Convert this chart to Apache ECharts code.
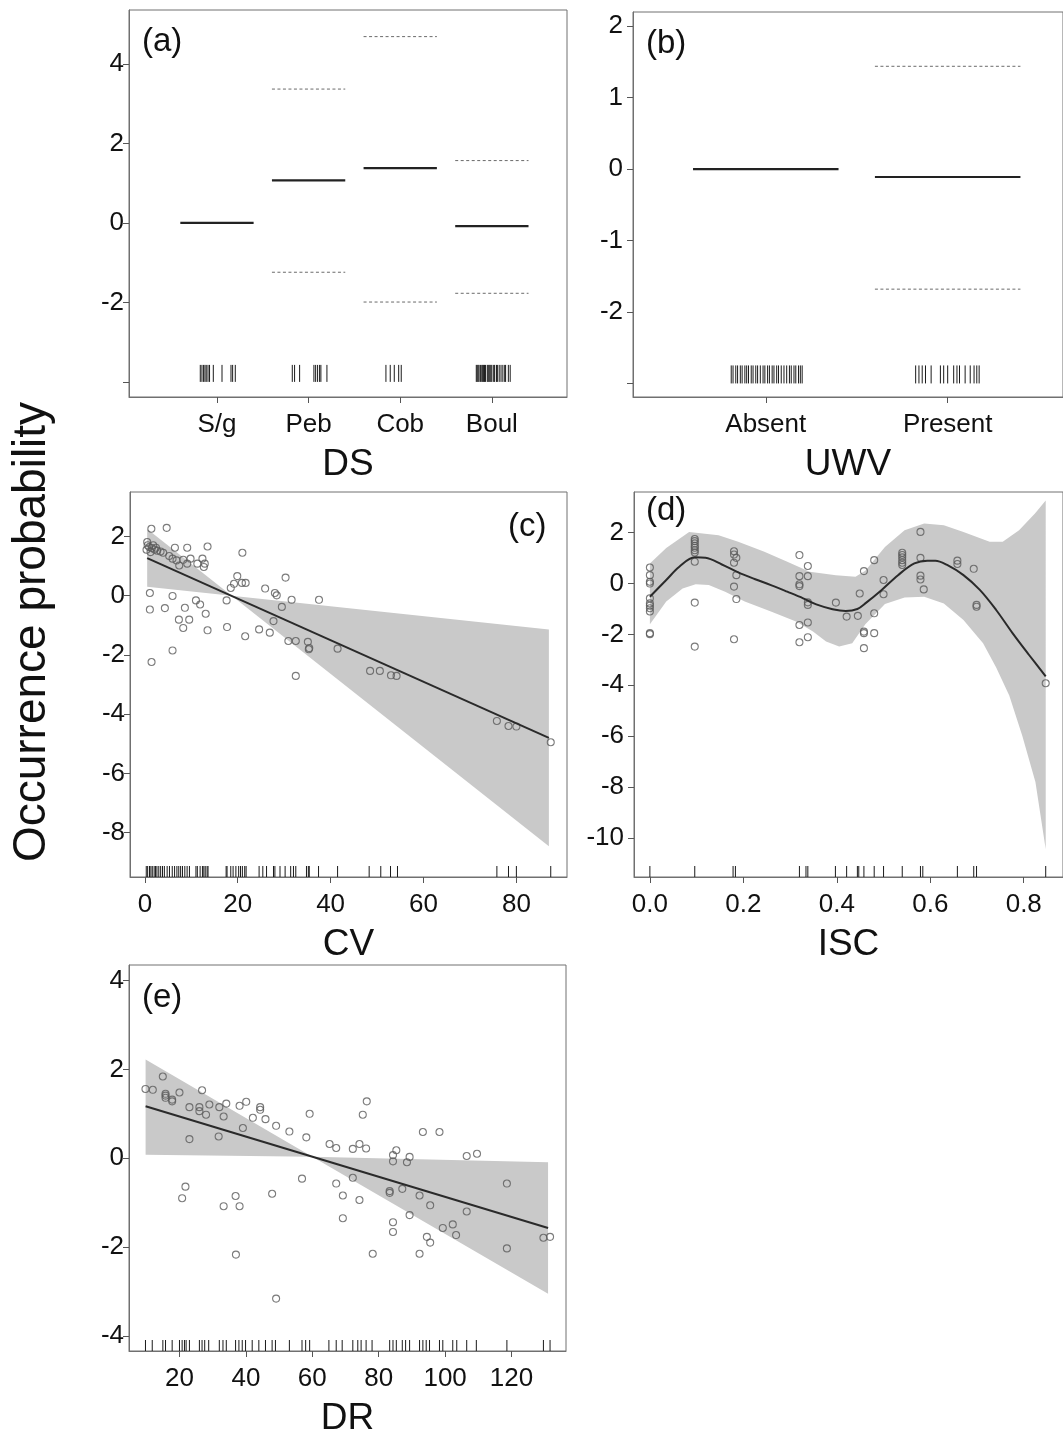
<!DOCTYPE html>
<html>
<head>
<meta charset="utf-8">
<script src="https://cdn.jsdelivr.net/npm/echarts@6/dist/echarts.min.js"></script>
<style>html,body{margin:0;padding:0;background:#fff}#c{width:1063px;height:1438px}</style>
</head>
<body>
<div id="c"></div>
<script>
// ---------- DATA ----------
// (a) DS
const DS_CATS = ['S/g', 'Peb', 'Cob', 'Boul'];
const DS_FIT = [0, 1.07, 1.38, -0.08];
const DS_UPPER = [null, 3.37, 4.69, 1.57];
const DS_LOWER = [null, -1.24, -1.99, -1.77];
const DS_RUG = [0.818, 0.836, 0.854, 0.869, 0.883, 0.902, 0.919, 0.96, 1.055, 1.153, 1.171, 1.2,
  1.822, 1.847, 1.902, 2.058, 2.077, 2.098, 2.12, 2.134, 2.2,
  2.844, 2.891, 2.935, 2.983, 3.011,
  3.83, 3.84, 3.85, 3.86, 3.875, 3.89, 3.90, 3.91, 3.92, 3.93, 3.95, 3.96, 3.97, 3.98, 3.99, 4.0,
  4.02, 4.03, 4.05, 4.06, 4.08, 4.10, 4.12, 4.14, 4.15, 4.18, 4.20];
const DS_YTICKS = [-4, -2, 0, 2, 4];

// (b) UWV
const UWV_CATS = ['Absent', 'Present'];
const UWV_FIT = [0, -0.11];
const UWV_UPPER = [null, 1.44];
const UWV_LOWER = [null, -1.68];
const UWV_RUG = [0.81, 0.82, 0.835, 0.845, 0.86, 0.87, 0.885, 0.895, 0.905, 0.92, 0.93, 0.945, 0.955,
  0.97, 0.985, 0.995, 1.01, 1.02, 1.035, 1.045, 1.06, 1.07, 1.085, 1.10, 1.115, 1.13, 1.14, 1.155,
  1.165, 1.18, 1.19, 1.20,
  1.824, 1.842, 1.86, 1.878, 1.909, 1.96, 1.978, 2.0, 2.033, 2.051, 2.065, 2.096, 2.124, 2.145, 2.16, 2.173];
const UWV_YTICKS = [-3, -2, -1, 0, 1, 2];

// (c) CV
const CV_POINTS = [[1.4,2.26],[4.7,2.29],[0.5,1.81],[0.36,1.55],[0.93,1.64],[1.5,1.61],[2.08,1.56],[2.66,1.52],
  [3.38,1.49],[3.95,1.45],[1.22,1.47],[0.6,1.7],[1.8,1.7],[2.4,1.62],[6.47,1.62],[9.12,1.62],[13.5,1.66],
  [5.24,1.34],[5.96,1.25],[6.82,1.19],[7.4,1.02],[8.26,1.21],[9.12,1.08],[9.84,1.25],[11.3,1.08],[12.4,1.25],
  [12.9,1.08],[12.7,0.97],[21.0,1.45],[19.9,0.66],[19.2,0.4],[20.9,0.43],[21.7,0.43],[18.5,0.26],[30.3,0.61],
  [25.9,0.24],[28.0,0.09],[28.4,0.01],[31.6,-0.14],[37.5,-0.14],[17.6,-0.16],[1.08,0.09],[5.96,-0.01],
  [11.0,-0.16],[11.9,-0.3],[1.08,-0.47],[4.31,-0.42],[8.62,-0.41],[13.1,-0.61],[7.33,-0.81],[9.55,-0.81],
  [8.26,-1.09],[13.5,-1.17],[17.7,-1.06],[21.6,-1.37],[29.5,-0.38],[27.7,-0.86],[24.6,-1.14],[26.9,-1.25],
  [30.9,-1.53],[32.5,-1.53],[35.1,-1.56],[35.4,-1.77],[35.3,-1.81],[41.5,-1.79],[5.96,-1.85],[1.44,-2.24],
  [32.5,-2.71],[48.5,-2.54],[50.6,-2.54],[53.0,-2.69],[54.2,-2.71],[75.8,-4.23],[78.3,-4.40],[80.0,-4.42],[87.4,-4.95]];
const CV_FIT_X = [0.5, 87];
const CV_FIT_Y = [1.27, -4.80];
const CV_BAND_X = [0.5, 18.7, 87];
const CV_BAND_UP = [2.25, 0, -1.14];
const CV_BAND_LO = [0.30, 0, -8.46];
const CV_RUG = [0.3,0.6,1.0,1.3,1.6,2.0,2.3,2.6,3.0,3.4,3.8,4.2,4.8,5.3,5.9,6.4,6.9,7.3,7.7,8.1,8.6,9.1,9.6,
  11.0,11.3,11.9,12.4,12.7,13.0,13.4,13.6,
  17.5,17.7,18.5,19.0,19.6,20.2,20.6,21.0,21.5,21.8,
  24.6,25.4,26.2,27.7,28.0,29.1,30.2,31.4,32.0,32.5,
  34.8,35.2,35.4,37.4,41.5,48.3,50.8,52.9,54.4,75.8,78.3,80.0,87.4];
const CV_XTICKS = [0, 20, 40, 60, 80];
const CV_YTICKS = [-8, -6, -4, -2, 0, 2];

// (d) ISC
const ISC_POINTS = [[0,0.63],[0,0.33],[0,0.07],[0,0.0],[0,-0.58],[0,-0.78],[0,-0.87],[0,-0.97],[0,-1.1],[0,-1.95],[0,-1.99],
  [0.096,1.75],[0.096,1.67],[0.096,1.58],[0.096,1.48],[0.096,1.41],[0.096,1.31],[0.096,1.22],[0.096,0.86],[0.096,-0.75],[0.096,-2.48],
  [0.18,1.27],[0.18,1.14],[0.18,0.82],[0.18,-0.12],[0.18,-2.19],[0.185,1.01],[0.185,0.33],[0.185,-0.61],
  [0.32,1.12],[0.32,0.29],[0.32,-0.03],[0.32,-0.1],[0.32,-1.63],[0.32,-2.31],
  [0.338,0.69],[0.338,0.29],[0.338,-0.74],[0.338,-0.84],[0.338,-1.53],[0.338,-2.11],
  [0.398,-0.75],[0.421,-1.3],[0.445,-1.27],[0.449,-0.39],
  [0.458,0.49],[0.458,-1.89],[0.458,-1.95],[0.458,-2.54],
  [0.48,0.92],[0.48,-1.17],[0.48,-1.95],[0.50,0.14],[0.50,-0.42],
  [0.54,1.21],[0.54,1.12],[0.54,1.03],[0.54,0.92],[0.54,0.82],[0.54,0.73],
  [0.579,2.03],[0.579,1.01],[0.579,0.31],[0.579,0.16],[0.586,-0.23],
  [0.658,0.9],[0.658,0.77],[0.693,0.58],[0.699,-0.84],[0.699,-0.91],[0.847,-3.92]];
const ISC_FIT_X = [0,0.035,0.063,0.096,0.119,0.154,0.189,0.224,0.259,0.294,0.328,0.356,0.391,0.419,0.444,0.463,
  0.496,0.531,0.566,0.594,0.611,0.636,0.671,0.706,0.741,0.776,0.811,0.847];
const ISC_FIT_Y = [-0.52,0.14,0.66,1.03,1.01,0.75,0.44,0.18,-0.06,-0.32,-0.58,-0.82,-1.01,-1.08,-1.0,-0.75,
  -0.25,0.33,0.79,0.9,0.9,0.73,0.33,-0.25,-1.04,-1.95,-2.80,-3.65];
const ISC_UP_X = [0,0.035,0.084,0.147,0.189,0.245,0.294,0.342,0.398,0.44,0.461,0.503,0.545,0.587,0.629,0.671,0.727,0.755,0.79,0.824,0.847];
const ISC_UP = [0.79,1.4,2.03,1.9,1.64,1.25,0.86,0.46,0.33,0.27,0.5,1.44,2.1,2.36,2.29,2.03,1.64,1.64,2.1,2.75,3.27];
const ISC_LO_X = [0,0.035,0.07,0.098,0.126,0.161,0.203,0.259,0.314,0.349,0.377,0.405,0.433,0.461,0.503,0.545,0.587,0.629,0.671,0.713,0.741,0.769,0.797,0.825,0.847];
const ISC_LO = [-1.6,-0.71,-0.19,-0.03,-0.06,-0.32,-0.71,-1.1,-1.5,-1.89,-2.28,-2.48,-2.35,-1.6,-0.8,-0.55,-0.52,-0.78,-1.43,-2.35,-3.3,-4.4,-6.0,-7.8,-10.45];
const ISC_RUG = [0,0.096,0.178,0.183,0.32,0.334,0.338,0.397,0.421,0.444,0.447,0.458,0.48,0.5,0.54,0.579,0.584,0.658,0.693,0.699,0.847];
const ISC_XTICKS = [0, 0.2, 0.4, 0.6, 0.8];
const ISC_YTICKS = [-10, -8, -6, -4, -2, 0, 2];

// (e) DR
const DR_POINTS = [[9.76,1.56],[11.97,1.54],[14.98,1.84],[15.8,1.45],[15.8,1.41],[15.8,1.36],[17.8,1.32],[17.8,1.28],
  [20.0,1.48],[23.0,1.15],[26.8,1.53],[26.0,1.15],[26.0,1.06],[28.0,0.98],[29.0,1.21],[32.0,1.15],[33.3,0.94],
  [34.1,1.23],[38.1,1.18],[40.1,1.27],[44.3,1.15],[44.3,1.09],[42.1,0.91],[45.9,0.88],[49.1,0.73],[53.1,0.6],
  [58.2,0.47],[59.2,1.0],[39.1,0.68],[31.8,0.49],[23.0,0.43],[65.2,0.32],[67.2,0.23],[72.2,0.21],[74.2,0.32],
  [76.2,0.22],[75.2,0.98],[76.4,1.28],[84.3,0.07],[84.3,-0.07],[85.3,0.18],[89.3,0.03],[88.5,-0.09],[93.3,0.59],
  [98.3,0.59],[106.5,0.05],[109.6,0.1],[118.6,-0.57],[56.9,-0.46],[67.2,-0.57],[72.2,-0.44],[69.2,-0.84],
  [74.2,-0.94],[69.2,-1.35],[83.3,-0.74],[83.3,-0.78],[87.1,-0.69],[92.3,-0.84],[95.5,-1.06],[89.3,-1.28],
  [84.3,-1.44],[106.5,-1.2],[99.3,-1.57],[102.3,-1.49],[21.8,-0.64],[20.8,-0.9],[36.9,-0.85],[33.3,-1.08],
  [38.1,-1.08],[47.9,-0.8],[37.0,-2.17],[49.1,-3.16],[78.2,-2.15],[84.3,-1.66],[92.3,-2.15],[94.5,-1.77],
  [95.5,-1.90],[103.3,-1.73],[118.6,-2.03],[129.6,-1.79],[131.6,-1.77]];
const DR_FIT_X = [9.8, 131];
const DR_FIT_Y = [1.17, -1.57];
const DR_BAND_X = [9.8, 60, 131];
const DR_BAND_UP = [2.22, 0.035, -0.09];
const DR_BAND_LO = [0.08, 0.035, -3.05];
const DR_RUG = [9.76,11.8,15.0,15.8,17.8,20.0,20.8,21.5,22.0,23.0,26.0,26.8,27.6,28.8,32.0,33.1,34.1,36.9,37.9,38.9,
  39.9,41.9,43.9,45.9,47.9,48.9,53.1,56.9,58.0,59.2,65.0,67.2,69.0,72.2,73.7,74.7,76.2,78.0,83.3,84.3,85.3,
  87.1,88.1,89.3,92.3,93.3,94.3,95.3,98.3,99.3,102.3,103.5,106.5,109.4,118.6,129.6,131.6];
const DR_XTICKS = [20, 40, 60, 80, 100, 120];
const DR_YTICKS = [-4, -2, 0, 2, 4];

// ---------- CHART ----------
const FONT = '"Liberation Sans", Arial, Helvetica, sans-serif';
const chart = echarts.init(document.getElementById('c'), null, {renderer: 'canvas'});

const GRID_STYLE = {show: true, borderColor: '#707070', borderWidth: 1, backgroundColor: 'transparent'};
const grids = [
  Object.assign({left: 129, top: 10, width: 438, height: 387}, GRID_STYLE),
  Object.assign({left: 633, top: 12, width: 434, height: 385}, GRID_STYLE),
  Object.assign({left: 130, top: 492, width: 437, height: 385}, GRID_STYLE),
  Object.assign({left: 634, top: 492, width: 438, height: 385}, GRID_STYLE),
  Object.assign({left: 129, top: 965, width: 437, height: 387}, GRID_STYLE)
];

function xAxis(gi, min, max, ticks, fmt, name) {
  return {
    type: 'value', gridIndex: gi, min: min, max: max,
    axisLine: {show: true, onZero: false, lineStyle: {color: '#707070', width: 1}},
    splitLine: {show: false},
    axisTick: {show: true, length: 6, lineStyle: {color: '#555'}, customValues: ticks},
    axisLabel: {customValues: ticks, formatter: fmt, fontSize: 26, color: '#111', margin: 15, fontFamily: FONT},
    name: name, nameLocation: 'middle', nameGap: 49,
    nameTextStyle: {fontSize: 37, color: '#111', fontFamily: FONT}
  };
}
function yAxis(gi, min, max, ticks, hide, margin) {
  return {
    type: 'value', gridIndex: gi, min: min, max: max,
    axisLine: {show: true, onZero: false, lineStyle: {color: '#707070', width: 1}},
    splitLine: {show: false},
    axisTick: {show: true, length: 6, lineStyle: {color: '#555'}, customValues: ticks},
    axisLabel: {customValues: ticks, fontSize: 26, color: '#111', margin: margin, fontFamily: FONT,
      formatter: v => (hide !== null && v === hide) ? '' : String(v)}
  };
}

function rugSeries(gi, vals, base, len) {
  return {
    type: 'custom', xAxisIndex: gi, yAxisIndex: gi, silent: true, z: 3,
    data: vals.map(v => [v, base]), encode: {x: 0, y: 1},
    renderItem: (p, api) => {
      const c = api.coord([api.value(0), api.value(1)]);
      return {type: 'line', shape: {x1: c[0], y1: c[1], x2: c[0], y2: c[1] - len},
        style: {stroke: '#1a1a1a', lineWidth: 1}};
    }
  };
}
function segSeries(gi, vals, dashed) {
  const data = [];
  vals.forEach((v, i) => { if (v !== null) data.push([i + 1, v]); });
  return {
    type: 'custom', xAxisIndex: gi, yAxisIndex: gi, silent: true, z: 4,
    data: data, encode: {x: 0, y: 1},
    renderItem: (p, api) => {
      const x = api.value(0), y = api.value(1);
      const a = api.coord([x - 0.4, y]), b = api.coord([x + 0.4, y]);
      return {type: 'line', shape: {x1: a[0], y1: a[1], x2: b[0], y2: b[1]},
        style: dashed ? {stroke: '#6a6a6a', lineWidth: 1, lineDash: [3, 2.5]} : {stroke: '#222', lineWidth: 2.2}};
    }
  };
}
function bandSeries(gi, upX, up, loX, lo) {
  return {
    type: 'custom', xAxisIndex: gi, yAxisIndex: gi, silent: true, z: 1,
    data: [[upX[0], up[0]]], encode: {x: 0, y: 1},
    renderItem: (p, api) => {
      const pts = upX.map((x, i) => api.coord([x, up[i]]))
        .concat(loX.map((x, i) => api.coord([x, lo[i]])).reverse());
      return {type: 'polygon', shape: {points: pts}, style: {fill: '#c9c9c9'}};
    }
  };
}
function pointSeries(gi, pts) {
  return {
    type: 'scatter', xAxisIndex: gi, yAxisIndex: gi, silent: true, z: 4,
    data: pts, symbol: 'circle', symbolSize: 7,
    itemStyle: {color: 'rgba(255,255,255,0)', borderColor: '#5a5a5a', borderWidth: 1.1}
  };
}
function fitSeries(gi, xs, ys, smooth) {
  return {
    type: 'line', xAxisIndex: gi, yAxisIndex: gi, silent: true, z: 5,
    data: xs.map((x, i) => [x, ys[i]]), symbol: 'none', smooth: smooth,
    lineStyle: {color: '#2a2a2a', width: 2}
  };
}

const option = {
  animation: false,
  backgroundColor: '#fff',
  grid: grids,
  xAxis: [
    xAxis(0, 0.04, 4.82, [1, 2, 3, 4], v => DS_CATS[Math.round(v) - 1], 'DS'),
    xAxis(1, 0.27, 2.634, [1, 2], v => UWV_CATS[Math.round(v) - 1], 'UWV'),
    xAxis(2, -3.2, 90.9, CV_XTICKS, v => String(v), 'CV'),
    xAxis(3, -0.034, 0.884, ISC_XTICKS, v => v.toFixed(1), 'ISC'),
    xAxis(4, 4.8, 136.4, DR_XTICKS, v => String(v), 'DR')
  ],
  yAxis: [
    yAxis(0, -4.38, 5.36, DS_YTICKS, -4, 5),
    yAxis(1, -3.19, 2.2, UWV_YTICKS, -3, 10),
    yAxis(2, -9.5, 3.5, CV_YTICKS, null, 5),
    yAxis(3, -11.54, 3.6, ISC_YTICKS, null, 10),
    yAxis(4, -4.34, 4.35, DR_YTICKS, null, 5)
  ],
  series: [
    segSeries(0, DS_FIT, false),
    segSeries(0, DS_UPPER, true),
    segSeries(0, DS_LOWER, true),
    rugSeries(0, DS_RUG, -4, 17),
    segSeries(1, UWV_FIT, false),
    segSeries(1, UWV_UPPER, true),
    segSeries(1, UWV_LOWER, true),
    rugSeries(1, UWV_RUG, -3, 18),
    bandSeries(2, CV_BAND_X, CV_BAND_UP, CV_BAND_X, CV_BAND_LO),
    pointSeries(2, CV_POINTS),
    fitSeries(2, CV_FIT_X, CV_FIT_Y, false),
    rugSeries(2, CV_RUG, -9.5, 11),
    bandSeries(3, ISC_UP_X, ISC_UP, ISC_LO_X, ISC_LO),
    pointSeries(3, ISC_POINTS),
    fitSeries(3, ISC_FIT_X, ISC_FIT_Y, 0.35),
    rugSeries(3, ISC_RUG, -11.54, 11),
    bandSeries(4, DR_BAND_X, DR_BAND_UP, DR_BAND_X, DR_BAND_LO),
    pointSeries(4, DR_POINTS),
    fitSeries(4, DR_FIT_X, DR_FIT_Y, false),
    rugSeries(4, DR_RUG, -4.34, 11)
  ],
  graphic: [
    {type: 'text', left: 142, top: 25, style: {text: '(a)', fill: '#111', font: '33px ' + FONT}},
    {type: 'text', left: 646, top: 27, style: {text: '(b)', fill: '#111', font: '33px ' + FONT}},
    {type: 'text', left: 508, top: 510, style: {text: '(c)', fill: '#111', font: '33px ' + FONT}},
    {type: 'text', left: 646, top: 494, style: {text: '(d)', fill: '#111', font: '33px ' + FONT}},
    {type: 'text', left: 142, top: 981, style: {text: '(e)', fill: '#111', font: '33px ' + FONT}},
    {type: 'text', x: 32, y: 632, rotation: Math.PI / 2,
      style: {text: 'Occurrence probability', fill: '#111', font: '46px ' + FONT, align: 'center', verticalAlign: 'middle'}}
  ]
};
chart.setOption(option);
</script>
</body>
</html>
